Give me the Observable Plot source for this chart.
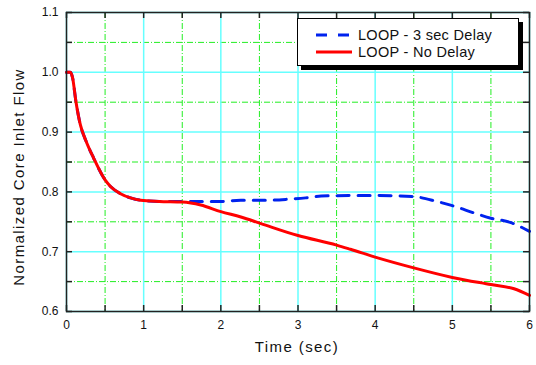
<!DOCTYPE html>
<html><head><meta charset="utf-8">
<script src="https://cdn.jsdelivr.net/npm/d3@7"></script>
<script src="https://cdn.jsdelivr.net/npm/@observablehq/plot@0.6"></script>
<style>
body{margin:0;background:#fff;font-family:"Liberation Sans",Arial,sans-serif}
#wrap{position:relative;width:536px;height:365px}
#legend{position:absolute;left:297px;top:18px;width:220px;height:46px;background:#fff;border:1px solid #000;box-shadow:4px 4px 0 #000;font-size:14.5px;color:#111}
.row{position:absolute;left:18px;height:18px;display:flex;align-items:center}
.row span{margin-left:6px;letter-spacing:0.3px}
</style></head><body>
<div id="wrap"></div>
<script>
const seriesNames = ["LOOP - 3 sec Delay", "LOOP - No Delay"];
const xLabel = "Time (sec)";
const yLabel = "Normalized Core Inlet Flow";
const timeNoDelay = [0, 0.05, 0.08, 0.12, 0.18, 0.25, 0.35, 0.5, 0.57, 0.7, 0.83, 0.96, 1.2, 1.5, 1.74, 2.0, 2.26, 2.52, 3.0, 3.5, 3.68, 4.0, 4.5, 5.0, 5.5, 5.8, 6.0];
const flowNoDelay = [1.0, 1.0, 0.99, 0.953, 0.912, 0.886, 0.857, 0.82, 0.809, 0.797, 0.79, 0.786, 0.784, 0.783, 0.778, 0.767, 0.758, 0.747, 0.727, 0.711, 0.704, 0.691, 0.673, 0.657, 0.645, 0.638, 0.627];
const timeDelay = [0, 0.05, 0.08, 0.12, 0.18, 0.25, 0.35, 0.5, 0.57, 0.7, 0.83, 0.96, 1.2, 1.5, 1.75, 2.0, 2.26, 2.6, 2.9, 3.1, 3.3, 3.7, 4.0, 4.5, 4.8, 5.0, 5.3, 5.5, 5.75, 6.0];
const flowDelay = [1.0, 1.0, 0.99, 0.953, 0.912, 0.886, 0.857, 0.82, 0.809, 0.797, 0.79, 0.786, 0.784, 0.784, 0.784, 0.784, 0.786, 0.786, 0.788, 0.79, 0.793, 0.794, 0.794, 0.792, 0.784, 0.777, 0.764, 0.756, 0.749, 0.734];
const xTicks = [0, 1, 2, 3, 4, 5, 6];
const xHalf = [0.5, 1.5, 2.5, 3.5, 4.5, 5.5];
const yTicks = [0.6, 0.7, 0.8, 0.9, 1.0, 1.1];
const yHalf = [0.65, 0.75, 0.85, 0.95, 1.05];
const xTickMarks = [0, 0.5, 1, 1.5, 2, 2.5, 3, 3.5, 4, 4.5, 5, 5.5, 6];
const yTickMarks = [0.6, 0.65, 0.7, 0.75, 0.8, 0.85, 0.9, 0.95, 1.0, 1.05, 1.1];

const noDelay = timeNoDelay.map((t, i) => ({t, v: flowNoDelay[i]}));
const delay = timeDelay.map((t, i) => ({t, v: flowDelay[i]}));

const green = "#22ee22", cyan = "#66ffff";
const plot = Plot.plot({
  width: 536, height: 365,
  marginLeft: 66, marginRight: 7, marginTop: 12, marginBottom: 54,
  style: {fontFamily: "'Liberation Sans', Arial, sans-serif", fontSize: "12px", color: "#111", background: "#fff"},
  x: {domain: [0, 6], label: null},
  y: {domain: [0.6, 1.1], label: null},
  marks: [
    Plot.ruleX(xHalf, {stroke: green, strokeWidth: 1, strokeDasharray: "6,2,1,2"}),
    Plot.ruleY(yHalf, {stroke: green, strokeWidth: 1, strokeDasharray: "6,2,1,2"}),
    Plot.ruleX(xTicks, {stroke: cyan, strokeWidth: 1.5}),
    Plot.ruleY(yTicks, {stroke: cyan, strokeWidth: 1.5}),
    Plot.ruleX(xTickMarks, {y1: 0.6, y2: 0.61, stroke: "#222", strokeWidth: 1.5}),
    Plot.ruleX(xTickMarks, {y1: 1.1, y2: 1.09, stroke: "#222", strokeWidth: 1.5}),
    Plot.ruleY(yTickMarks, {x1: 0, x2: 0.078, stroke: "#222", strokeWidth: 1.5}),
    Plot.ruleY(yTickMarks, {x1: 6, x2: 5.922, stroke: "#222", strokeWidth: 1.5}),
    Plot.line(delay, {x: "t", y: "v", stroke: "#0022ee", strokeWidth: 3, strokeDasharray: "12,9", curve: "monotone-x"}),
    Plot.line(noDelay, {x: "t", y: "v", stroke: "#ff0000", strokeWidth: 3, curve: "monotone-x"}),
    Plot.frame({stroke: "#222", strokeWidth: 1.5}),
    Plot.axisX(xTicks, {tickSize: 0, tickPadding: 9, fontSize: 12, label: null}),
    Plot.axisY(yTicks, {tickSize: 0, tickPadding: 8, fontSize: 12, tickFormat: d3.format(".1f"), label: null})
  ]
});
const svg = d3.select(plot);
svg.append("text").text(xLabel)
  .attr("x", 297).attr("y", 352).attr("text-anchor", "middle")
  .style("font-size", "15px").style("letter-spacing", "1.4px").attr("fill", "#111")
  .style("font-family", "'Liberation Sans', Arial, sans-serif");
svg.append("text").text(yLabel)
  .attr("transform", "translate(24,177) rotate(-90)").attr("text-anchor", "middle")
  .style("font-size", "15px").style("letter-spacing", "1.4px").attr("fill", "#111")
  .style("font-family", "'Liberation Sans', Arial, sans-serif");
const wrap = document.getElementById("wrap");
wrap.appendChild(plot);
const lg = document.createElement("div");
lg.id = "legend";
lg.innerHTML =
  `<div class="row" style="top:7px"><svg width="36" height="6"><line x1="0" y1="3" x2="36" y2="3" stroke="#0022ee" stroke-width="3" stroke-dasharray="11,11"/></svg><span>${seriesNames[0]}</span></div>` +
  `<div class="row" style="top:24px"><svg width="36" height="6"><line x1="0" y1="3" x2="36" y2="3" stroke="#ff0000" stroke-width="3"/></svg><span>${seriesNames[1]}</span></div>`;
wrap.appendChild(lg);
</script></body></html>
